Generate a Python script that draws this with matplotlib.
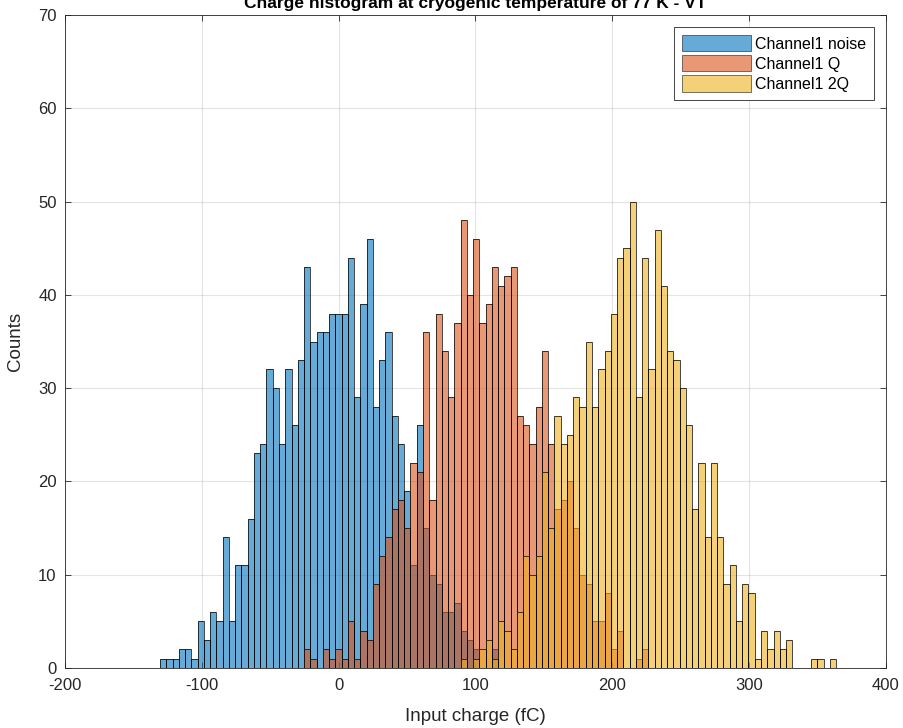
import numpy as np
import matplotlib
matplotlib.use("Agg")
import matplotlib.pyplot as plt

# common bin grid for all three histograms (fC)
first_edge = -130.5
bin_width = 4.575

# counts per bin, each series starting at the given bin index
noise_start = 0
noise_counts = [1, 1, 1, 2, 2, 1, 5, 3, 6, 5, 14, 5, 11, 11, 16, 23, 24, 32, 30, 24,
                32, 26, 33, 43, 35, 36, 36, 38, 38, 38, 44, 29, 39, 46, 28, 33, 36, 27,
                24, 19, 11, 26, 15, 10, 9, 6, 6, 7, 4, 3, 2, 0, 0, 2]

q_start = 23
q_counts = [2, 1, 0, 2, 1, 2, 1, 5, 1, 4, 3, 9, 12, 14, 17, 18, 15, 22, 21, 36,
            18, 38, 34, 29, 37, 48, 40, 46, 37, 39, 43, 41, 42, 43, 27, 26, 24, 28,
            34, 24, 17, 18, 20, 15, 10, 9, 5, 5, 8, 2, 4, 0, 0, 1, 2]

q2_start = 48
q2_counts = [1, 0, 1, 2, 3, 1, 5, 4, 2, 6, 12, 10, 12, 21, 15, 27, 24, 25, 29, 28,
             35, 28, 32, 34, 38, 44, 45, 50, 29, 44, 32, 47, 41, 34, 33, 30, 26, 17,
             22, 14, 22, 14, 9, 11, 5, 9, 8, 1, 4, 2, 4, 2, 3, 0, 0, 0, 1, 1, 0, 1]

labels = ["Channel1 noise", "Channel1 Q", "Channel1 2Q"]
colors = [(0, 0.447, 0.741), (0.850, 0.325, 0.098), (0.929, 0.694, 0.125)]

plt.rcParams['font.family'] = ['Liberation Sans', 'DejaVu Sans']
plt.rcParams['axes.unicode_minus'] = False

dark = (0.15, 0.15, 0.15)

fig = plt.figure(figsize=(9.04, 7.28), dpi=100)
ax = fig.add_axes([0.0719, 0.0824, 0.9081, 0.897])

series = [(noise_start, noise_counts), (q_start, q_counts), (q2_start, q2_counts)]
for (start, counts), lab, col in zip(series, labels, colors):
    counts = np.array(counts)
    left = first_edge + bin_width * (start + np.arange(len(counts)))
    ax.bar(left, counts, width=bin_width, align='edge', color=col, alpha=0.6,
           edgecolor='none', label=lab)
    ax.bar(left, counts, width=bin_width, align='edge', facecolor='none',
           edgecolor=(0, 0, 0, 0.85), linewidth=0.6)

ax.set_xlim(-200, 400)
ax.set_ylim(0, 70)
ax.set_xticks(np.arange(-200, 401, 100))
ax.set_yticks(np.arange(0, 71, 10))
ax.set_axisbelow(True)
ax.grid(True, color=dark, alpha=0.12, linewidth=0.8)
ax.tick_params(direction='in', top=True, right=True, labelsize=12,
               colors=dark, length=4, width=0.6)
ax.tick_params(axis='x', pad=7)
ax.tick_params(axis='y', pad=6)
for s in ax.spines.values():
    s.set_color(dark)
    s.set_linewidth(0.6)

ax.set_xlabel("Input charge (fC)", fontsize=13.5, color=dark, labelpad=11)
ax.set_ylabel("Counts", fontsize=13.5, color=dark, labelpad=10)
ax.set_title("Charge histogram at cryogenic temperature of 77 K - VT",
             fontsize=12.5, fontweight='bold', pad=5)

leg = ax.legend(loc='upper right', fontsize=11.5, fancybox=False, framealpha=1,
                edgecolor=dark, handlelength=4.3, handleheight=1.2,
                labelspacing=0.22, handletextpad=0.25, borderpad=0.5,
                borderaxespad=0.75)
leg.get_frame().set_linewidth(0.6)
for h in leg.legend_handles:
    h.set_edgecolor('black')
    h.set_linewidth(0.6)

fig.savefig("out.png", dpi=100)
